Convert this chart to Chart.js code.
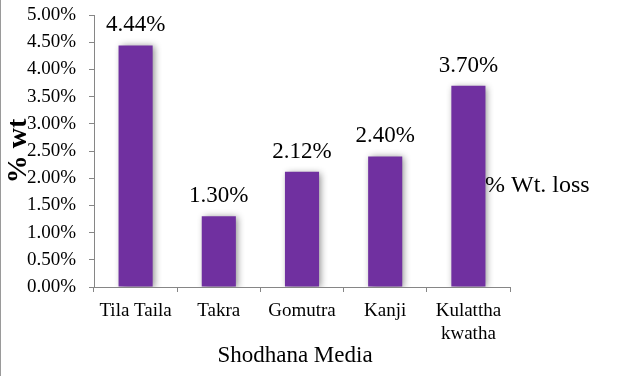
<!DOCTYPE html>
<html>
<head>
<meta charset="utf-8">
<script src="https://cdn.jsdelivr.net/npm/chart.js@4"></script>
<style>
  html, body { margin: 0; padding: 0; background: #fff; }
  canvas { display: block; }
</style>
</head>
<body>
<canvas id="c" width="618" height="376"></canvas>
<script>
const categories = ["Tila Taila", "Takra", "Gomutra", "Kanji", ["Kulattha", "kwatha"]];
const wtLoss = [4.44, 1.30, 2.12, 2.40, 3.70];
const seriesName = "% Wt. loss";
const yTitle = "% wt";
const xTitle = "Shodhana Media";

const FONT = "'Liberation Serif', 'Times New Roman', serif";
const PURPLE = "#7030A0";
const AXIS = "#868686";

const shadowPlugin = {
  id: 'shadow',
  beforeDatasetDraw(chart) {
    const ctx = chart.ctx;
    ctx.save();
    ctx.shadowColor = 'rgba(0,0,0,0.45)';
    ctx.shadowBlur = 7;
    ctx.shadowOffsetX = 2;
    ctx.shadowOffsetY = 1;
  },
  afterDatasetDraw(chart) { chart.ctx.restore(); }
};

const labelPlugin = {
  id: 'labels',
  afterDraw(chart) {
    const ctx = chart.ctx;
    const meta = chart.getDatasetMeta(0);
    ctx.save();
    ctx.fillStyle = '#000';
    ctx.font = "23px " + FONT;
    ctx.textAlign = 'center';
    ctx.textBaseline = 'alphabetic';
    meta.data.forEach((bar, i) => {
      ctx.fillText(wtLoss[i].toFixed(2) + '%', bar.x, bar.y - 14);
    });
    const ca = chart.chartArea;
    // x-axis title (slightly left of the plot centre, as in the original)
    ctx.textBaseline = 'middle';
    ctx.fillText(xTitle, (ca.left + ca.right) / 2 - 7, chart.height - 20);
    // legend text
    ctx.font = "24px " + FONT;
    ctx.textAlign = 'left';
    ctx.fillText(seriesName, ca.right - 25, (ca.top + ca.bottom) / 2 + 35);
    // left border
    ctx.strokeStyle = '#9a9a9a';
    ctx.lineWidth = 1;
    ctx.beginPath();
    ctx.moveTo(0.5, 0);
    ctx.lineTo(0.5, chart.height);
    ctx.stroke();
    ctx.restore();
  }
};

new Chart(document.getElementById('c'), {
  type: 'bar',
  data: {
    labels: categories,
    datasets: [{
      label: seriesName,
      data: wtLoss,
      backgroundColor: PURPLE,
      borderWidth: 0,
      barPercentage: 1,
      categoryPercentage: 0.41
    }]
  },
  options: {
    responsive: false,
    animation: false,
    devicePixelRatio: 1,
    layout: { padding: { top: 15, right: 108, left: 0, bottom: 0 } },
    plugins: { legend: { display: false }, tooltip: { enabled: false } },
    scales: {
      x: {
        grid: { display: true, drawOnChartArea: false, drawTicks: true, tickLength: 5, color: AXIS, offset: true },
        border: { display: true, color: AXIS, width: 1 },
        ticks: { color: '#000', font: { family: FONT, size: 19 }, padding: 8, maxRotation: 0, autoSkip: false },
        title: { display: false },
        afterFit(scale) { scale.height = 89; scale.paddingLeft = 0; scale.paddingRight = 0; }
      },
      y: {
        min: 0, max: 5,
        grid: { display: true, drawOnChartArea: false, drawTicks: true, tickLength: 5, color: AXIS },
        border: { display: true, color: AXIS, width: 1 },
        ticks: {
          stepSize: 0.5,
          color: '#000',
          font: { family: FONT, size: 19 },
          padding: 13,
          callback: v => v.toFixed(2) + '%'
        },
        title: { display: true, text: yTitle, color: '#000', font: { family: FONT, size: 28, weight: 'bold' }, padding: { top: 2, bottom: 0 } },
        afterFit(scale) { scale.width = 94; scale.paddingTop = 0; scale.paddingBottom = 0; }
      }
    }
  },
  plugins: [shadowPlugin, labelPlugin]
});
</script>
</body>
</html>
